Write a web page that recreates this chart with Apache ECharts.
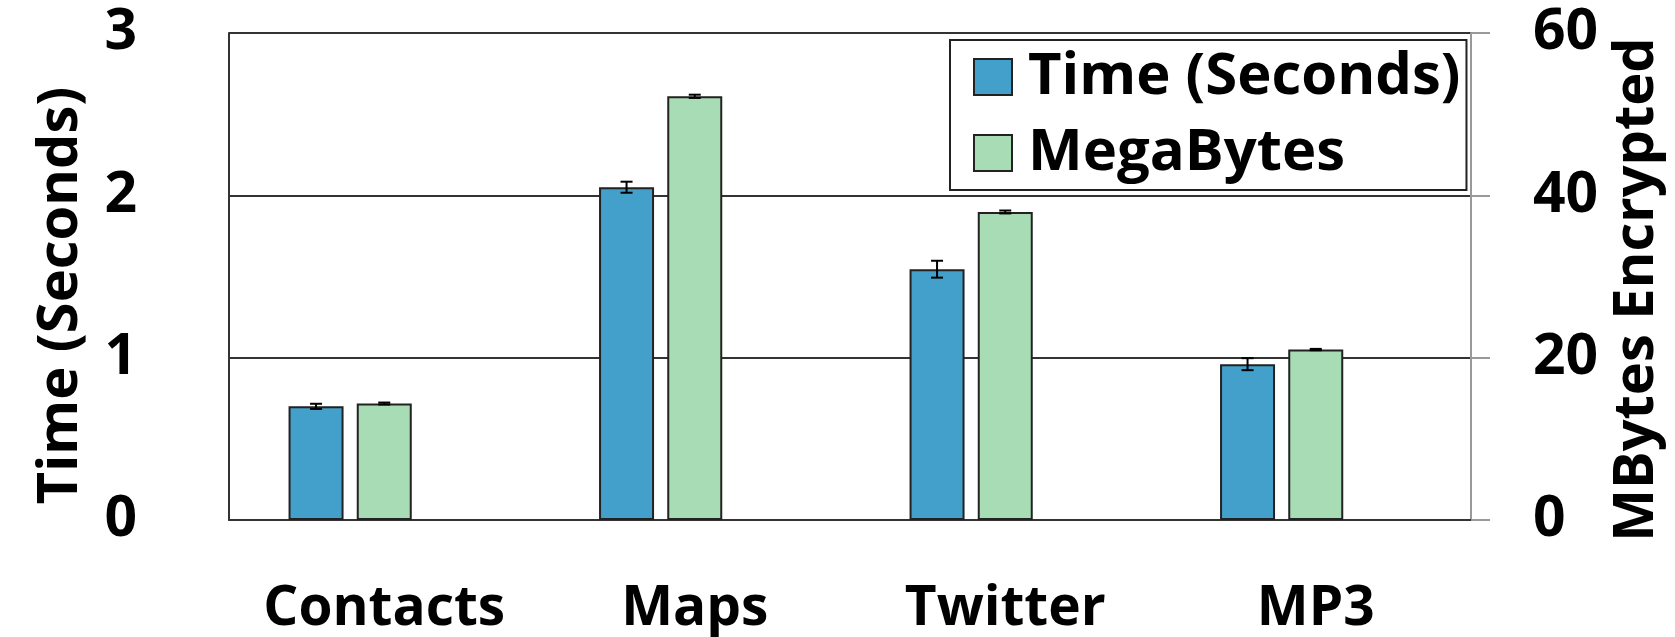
<!DOCTYPE html>
<html>
<head>
<meta charset="utf-8">
<script src="https://cdn.jsdelivr.net/npm/echarts@6/dist/echarts.min.js"></script>
<style>
  html, body { margin: 0; padding: 0; background: #fff; }
  #chart { width: 1675px; height: 637px; }
</style>
</head>
<body>
<div id="chart"></div>
<script>
// Workload categories
const categories = ['Contacts', 'Maps', 'Twitter', 'MP3'];

// Encryption time in seconds (mean and error half-width)
const timeSeconds = [0.70, 2.05, 1.545, 0.96];
const timeError   = [0.016, 0.034, 0.052, 0.037];

// Amount of data encrypted in megabytes (mean and error half-width)
const megaBytes   = [14.35, 52.2, 37.95, 21.0];
const mbError     = [0.12, 0.2, 0.18, 0.08];

// Axis ranges
const timeTicks = { min: 0, max: 3, interval: 1 };
const mbTicks   = { min: 0, max: 60, interval: 20 };

const FONT = '"Open Sans", "DejaVu Sans", sans-serif';
const BAR_W = 55;
const BAR_GAP = '24%';
const SLOT_COUNT = 3;

// Builds [index, low, high] rows for an error-bar series
function errorRows(vals, errs) {
  return vals.map((v, i) => [i, v - errs[i], v + errs[i]]);
}

// Draws a capped vertical error bar centred on the given bar slot
function errorBarRenderer(slot) {
  return function (params, api) {
    const idx = api.value(0);
    const lowPt = api.coord([idx, api.value(1)]);
    const highPt = api.coord([idx, api.value(2)]);
    const layout = api.barLayout({ barWidth: BAR_W, barGap: BAR_GAP, count: SLOT_COUNT });
    const l = layout[slot];
    const x = lowPt[0] + l.offset + l.width / 2;
    const cap = 6;
    const style = { stroke: '#000', lineWidth: 2 };
    return {
      type: 'group',
      children: [
        { type: 'line', shape: { x1: x, y1: highPt[1], x2: x, y2: lowPt[1] }, style },
        { type: 'line', shape: { x1: x - cap, y1: highPt[1], x2: x + cap, y2: highPt[1] }, style },
        { type: 'line', shape: { x1: x - cap, y1: lowPt[1], x2: x + cap, y2: lowPt[1] }, style }
      ]
    };
  };
}

const chart = echarts.init(document.getElementById('chart'), null, { renderer: 'canvas' });

chart.setOption({
  animation: false,
  backgroundColor: '#fff',
  grid: { left: 229, right: 204, top: 33, bottom: 117, containLabel: false },
  legend: {
    orient: 'vertical',
    left: 950,
    top: 40,
    data: ['Time (Seconds)', 'MegaBytes'],
    icon: 'rect',
    itemWidth: 38,
    itemHeight: 36,
    itemGap: 18,
    padding: [8, 6, 8, 23],
    borderColor: '#222',
    borderWidth: 2,
    backgroundColor: '#fff',
    itemStyle: { borderColor: '#222', borderWidth: 2 },
    textStyle: {
      fontFamily: FONT, fontWeight: 700, fontSize: 58, color: '#000',
      lineHeight: 58, padding: [0, 0, 0, 11]
    }
  },
  xAxis: {
    type: 'category',
    data: categories,
    axisLine: { show: true, lineStyle: { color: '#333', width: 2 } },
    axisTick: { show: false },
    axisLabel: {
      interval: 0,
      hideOverlap: false,
      fontFamily: FONT, fontWeight: 700, fontSize: 55, color: '#000', margin: 62
    },
    splitLine: { show: false }
  },
  yAxis: [
    {
      type: 'value',
      position: 'left',
      min: timeTicks.min, max: timeTicks.max, interval: timeTicks.interval,
      name: 'Time (Seconds)',
      nameLocation: 'middle',
      nameGap: 140,
      nameTextStyle: {
        fontFamily: FONT, fontWeight: 700, fontSize: 56, color: '#000',
        padding: [0, 38, 0, 0]
      },
      axisLine: { show: true, lineStyle: { color: '#333', width: 2 } },
      axisTick: { show: false },
      axisLabel: {
        fontFamily: FONT, fontWeight: 700, fontSize: 57, color: '#000', margin: 92
      },
      splitLine: { show: true, lineStyle: { color: '#333', width: 2 } }
    },
    {
      type: 'value',
      position: 'right',
      min: mbTicks.min, max: mbTicks.max, interval: mbTicks.interval,
      name: 'MBytes Encrypted',
      nameLocation: 'middle',
      nameGap: 130,
      nameTextStyle: {
        fontFamily: FONT, fontWeight: 700, fontSize: 56, color: '#000',
        padding: [0, 26, 0, 0]
      },
      axisLine: { show: true, lineStyle: { color: '#999', width: 2 } },
      axisTick: { show: true, length: 19, lineStyle: { color: '#999', width: 2 } },
      axisLabel: {
        fontFamily: FONT, fontWeight: 700, fontSize: 57, color: '#000', margin: 62
      },
      splitLine: { show: false }
    }
  ],
  series: [
    {
      name: 'Time (Seconds)',
      type: 'bar',
      yAxisIndex: 0,
      data: timeSeconds,
      barWidth: BAR_W,
      barGap: BAR_GAP,
      itemStyle: { color: '#42a0ca', borderColor: '#222', borderWidth: 2 },
      z: 2
    },
    {
      name: 'MegaBytes',
      type: 'bar',
      yAxisIndex: 1,
      data: megaBytes,
      barWidth: BAR_W,
      barGap: BAR_GAP,
      itemStyle: { color: '#a8dcb4', borderColor: '#222', borderWidth: 2 },
      z: 2
    },
    {
      // empty third slot keeps the pair offset to the left of each category
      name: 'slot',
      type: 'bar',
      yAxisIndex: 0,
      data: [],
      barWidth: BAR_W,
      barGap: BAR_GAP
    },
    {
      name: 'timeErr',
      type: 'custom',
      yAxisIndex: 0,
      data: errorRows(timeSeconds, timeError),
      encode: { x: 0, y: [1, 2] },
      renderItem: errorBarRenderer(0),
      z: 5,
      silent: true
    },
    {
      name: 'mbErr',
      type: 'custom',
      yAxisIndex: 1,
      data: errorRows(megaBytes, mbError),
      encode: { x: 0, y: [1, 2] },
      renderItem: errorBarRenderer(1),
      z: 5,
      silent: true
    }
  ]
});
</script>
</body>
</html>
